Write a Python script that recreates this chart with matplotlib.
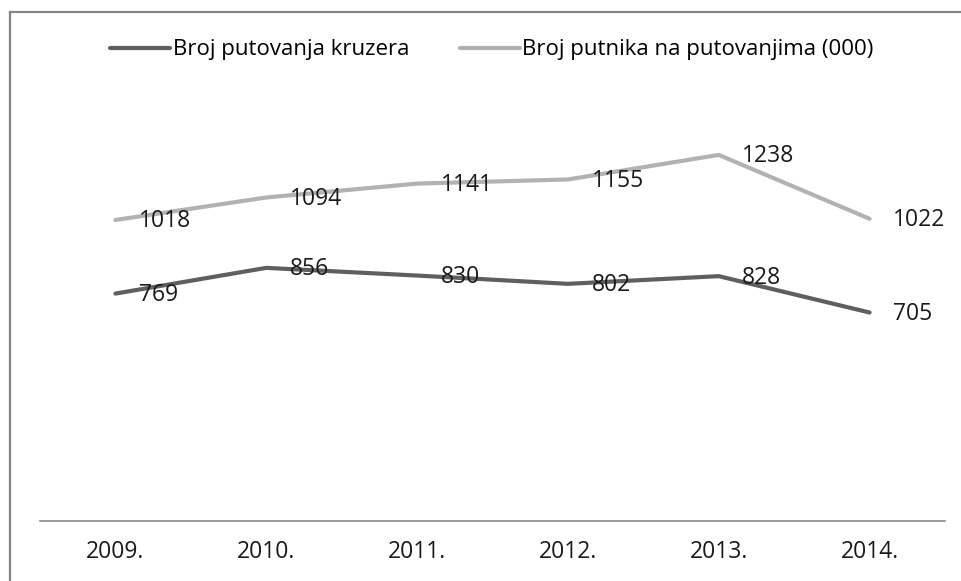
import numpy as np
import matplotlib.pyplot as plt
from matplotlib.lines import Line2D

years = ['2009.', '2010.', '2011.', '2012.', '2013.', '2014.']
cruises = [769, 856, 830, 802, 828, 705]
passengers = [1018, 1094, 1141, 1155, 1238, 1022]

plt.rcParams['font.family'] = ['Open Sans', 'DejaVu Sans']

fig = plt.figure(figsize=(9.62, 5.81), dpi=100)
ax = fig.add_axes([40/962, 60/581, 905/962, 414/581])

x = np.arange(len(years))
ax.plot(x, cruises, color='#5f5f5f', lw=3, solid_capstyle='round', label='Broj putovanja kruzera')
ax.plot(x, passengers, color='#b2b2b2', lw=3, solid_capstyle='round', label='Broj putnika na putovanjima (000)')

# data labels to the right of the points
for xi, v in zip(x, cruises):
    ax.annotate(str(v), (xi, v), xytext=(17, -1), textcoords='offset points',
                va='center', ha='left', fontsize=16.5, color='#1a1a1a')
for xi, v in zip(x, passengers):
    ax.annotate(str(v), (xi, v), xytext=(17, -1), textcoords='offset points',
                va='center', ha='left', fontsize=16.5, color='#1a1a1a')

ax.set_xlim(-0.5, len(years) - 0.5)
ax.set_ylim(0, 1400)
ax.set_xticks(x)
ax.set_xticklabels(years, fontsize=16.5, color='#1a1a1a')
ax.set_yticks([])
ax.tick_params(axis='x', length=0, pad=14)
for s in ['top', 'right', 'left']:
    ax.spines[s].set_visible(False)
ax.spines['bottom'].set_color('#8a8a8a')
ax.spines['bottom'].set_linewidth(1.2)

fig.legend(loc='center', bbox_to_anchor=(492/962, 1 - 50/581), ncol=2, frameon=False,
           fontsize=16, handlelength=2.7, handletextpad=0.1, columnspacing=2.3)

# chart border (left and top edges only visible)
bx, by = 10/962, 1 - 12/581
fig.add_artist(Line2D([bx, bx], [0, by], transform=fig.transFigure, color='#858585', lw=1.6))
fig.add_artist(Line2D([bx, 1], [by, by], transform=fig.transFigure, color='#858585', lw=1.6))

fig.savefig('out.png', dpi=100)
